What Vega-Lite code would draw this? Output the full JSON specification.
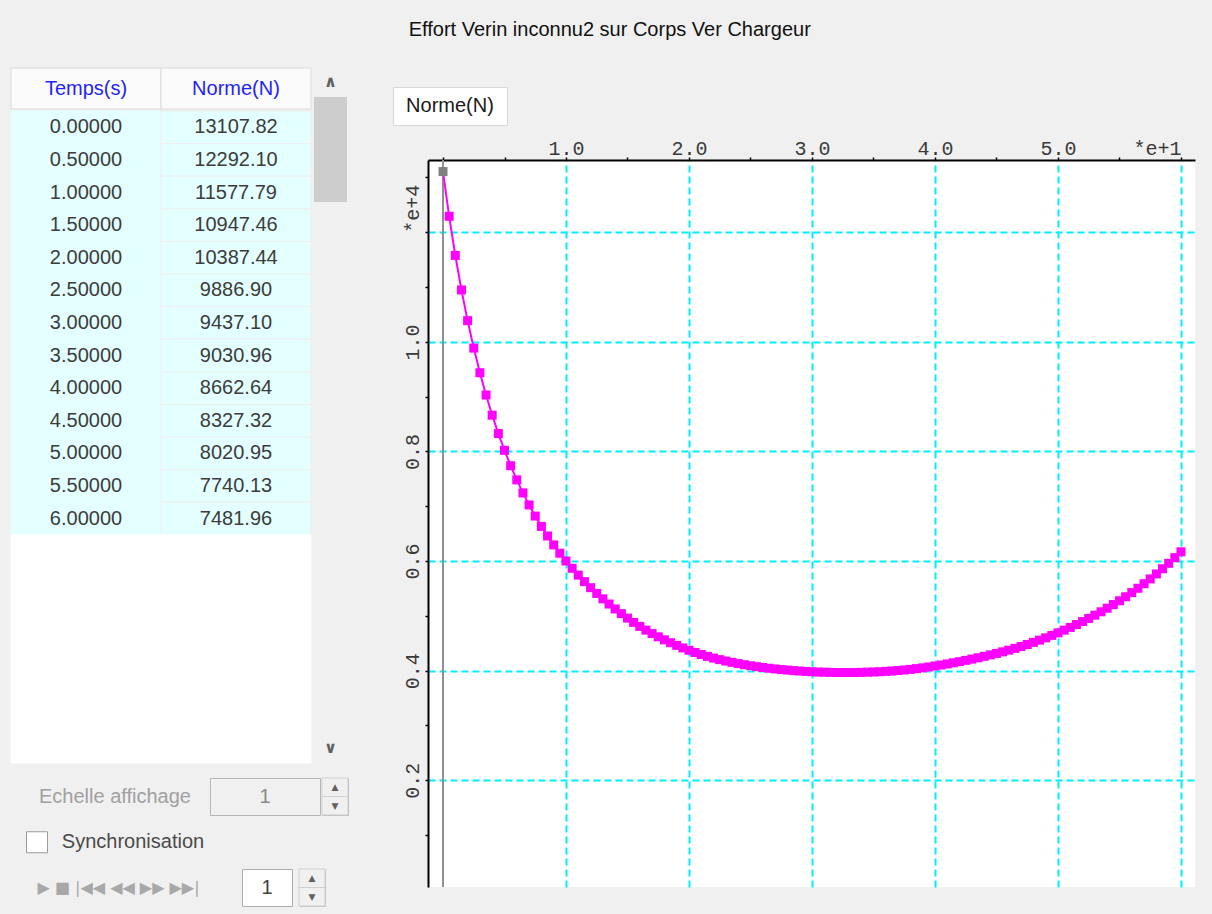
{
  "$schema": "https://vega.github.io/schema/vega-lite/v6.json",
  "background": "#f0f0f0",
  "padding": {"left": 10, "top": 19, "right": 17, "bottom": 9},
  "config": {"view": {"stroke": null}, "font": "Liberation Sans"},
  "title": {"text": "Effort Verin inconnu2 sur Corps Ver Chargeur", "fontSize": 20, "fontWeight": "normal", "color": "#111111", "font": "Liberation Sans", "anchor": "middle", "offset": 28, "dx": 7},
  "datasets": {
    "series": [
      {"t": 0, "norme": 13107.82}, {"t": 0.5, "norme": 12292.10}, {"t": 1, "norme": 11577.79}, {"t": 1.5, "norme": 10947.46},
      {"t": 2, "norme": 10387.44}, {"t": 2.5, "norme": 9886.90}, {"t": 3, "norme": 9437.10}, {"t": 3.5, "norme": 9030.96},
      {"t": 4, "norme": 8662.64}, {"t": 4.5, "norme": 8327.32}, {"t": 5, "norme": 8020.95}, {"t": 5.5, "norme": 7740.13},
      {"t": 6, "norme": 7481.96}, {"t": 6.5, "norme": 7244.1}, {"t": 7, "norme": 7024.5}, {"t": 7.5, "norme": 6821.4},
      {"t": 8, "norme": 6633.1}, {"t": 8.5, "norme": 6458.2}, {"t": 9, "norme": 6295.4}, {"t": 9.5, "norme": 6143.5},
      {"t": 10, "norme": 6001.5}, {"t": 10.5, "norme": 5868.4}, {"t": 11, "norme": 5743.4}, {"t": 11.5, "norme": 5625.8},
      {"t": 12, "norme": 5514.9}, {"t": 12.5, "norme": 5410.1}, {"t": 13, "norme": 5310.9}, {"t": 13.5, "norme": 5216.7},
      {"t": 14, "norme": 5127.1}, {"t": 14.5, "norme": 5041.7}, {"t": 15, "norme": 4960.2}, {"t": 15.5, "norme": 4881.2},
      {"t": 16, "norme": 4808.2}, {"t": 16.5, "norme": 4740.2}, {"t": 17, "norme": 4677.2}, {"t": 17.5, "norme": 4618.2},
      {"t": 18, "norme": 4563.2}, {"t": 18.5, "norme": 4511.2}, {"t": 19, "norme": 4462.2}, {"t": 19.5, "norme": 4416.2},
      {"t": 20, "norme": 4373.2}, {"t": 20.5, "norme": 4332.2}, {"t": 21, "norme": 4295.2}, {"t": 21.5, "norme": 4261.2},
      {"t": 22, "norme": 4230.2}, {"t": 22.5, "norme": 4201.7}, {"t": 23, "norme": 4175.7}, {"t": 23.5, "norme": 4151.7},
      {"t": 24, "norme": 4129.7}, {"t": 24.5, "norme": 4109.7}, {"t": 25, "norme": 4091.2}, {"t": 25.5, "norme": 4074.2},
      {"t": 26, "norme": 4058.7}, {"t": 26.5, "norme": 4044.7}, {"t": 27, "norme": 4032.2}, {"t": 27.5, "norme": 4021.2},
      {"t": 28, "norme": 4011.2}, {"t": 28.5, "norme": 4002.2}, {"t": 29, "norme": 3994.2}, {"t": 29.5, "norme": 3987.2},
      {"t": 30, "norme": 3981.2}, {"t": 30.5, "norme": 3976.2}, {"t": 31, "norme": 3972.2}, {"t": 31.5, "norme": 3969.2},
      {"t": 32, "norme": 3967.2}, {"t": 32.5, "norme": 3966.2}, {"t": 33, "norme": 3966.7}, {"t": 33.5, "norme": 3967.7},
      {"t": 34, "norme": 3969.7}, {"t": 34.5, "norme": 3972.7}, {"t": 35, "norme": 3976.7}, {"t": 35.5, "norme": 3981.7},
      {"t": 36, "norme": 3987.7}, {"t": 36.5, "norme": 3994.7}, {"t": 37, "norme": 4003.2}, {"t": 37.5, "norme": 4013.2},
      {"t": 38, "norme": 4024.7}, {"t": 38.5, "norme": 4037.7}, {"t": 39, "norme": 4052.2}, {"t": 39.5, "norme": 4068.2},
      {"t": 40, "norme": 4085.7}, {"t": 40.5, "norme": 4104.2}, {"t": 41, "norme": 4123.7}, {"t": 41.5, "norme": 4144.2},
      {"t": 42, "norme": 4165.7}, {"t": 42.5, "norme": 4188.2}, {"t": 43, "norme": 4211.7}, {"t": 43.5, "norme": 4236.2},
      {"t": 44, "norme": 4261.7}, {"t": 44.5, "norme": 4288.2}, {"t": 45, "norme": 4315.7}, {"t": 45.5, "norme": 4344.2},
      {"t": 46, "norme": 4374.7}, {"t": 46.5, "norme": 4407.2}, {"t": 47, "norme": 4441.7}, {"t": 47.5, "norme": 4478.2},
      {"t": 48, "norme": 4516.7}, {"t": 48.5, "norme": 4557.2}, {"t": 49, "norme": 4599.7}, {"t": 49.5, "norme": 4644.2},
      {"t": 50, "norme": 4690.7}, {"t": 50.5, "norme": 4739.2}, {"t": 51, "norme": 4789.7}, {"t": 51.5, "norme": 4842.2},
      {"t": 52, "norme": 4896.7}, {"t": 52.5, "norme": 4953.7}, {"t": 53, "norme": 5013.2}, {"t": 53.5, "norme": 5075.2},
      {"t": 54, "norme": 5139.7}, {"t": 54.5, "norme": 5206.7}, {"t": 55, "norme": 5276.2}, {"t": 55.5, "norme": 5349.2},
      {"t": 56, "norme": 5425.2}, {"t": 56.5, "norme": 5504.7}, {"t": 57, "norme": 5587.7}, {"t": 57.5, "norme": 5674.7},
      {"t": 58, "norme": 5765.7}, {"t": 58.5, "norme": 5860.7}, {"t": 59, "norme": 5959.7}, {"t": 59.5, "norme": 6062.7},
      {"t": 60, "norme": 6169.7}
    ]
  },
  "spacing": 43,
  "hconcat": [
    {
      "spacing": 13,
      "vconcat": [
        {
          "spacing": 2,
          "hconcat": [
            {
              "spacing": 0,
              "vconcat": [
                {
                  "width": 300,
                  "height": 41,
                  "data": {"values": [{"col": "t", "header": "Temps(s)"}, {"col": "norme", "header": "Norme(N)"}]},
                  "encoding": {
                    "x": {"field": "col", "type": "nominal", "sort": null, "scale": {"domain": ["t", "norme"], "paddingInner": 0, "paddingOuter": 0}, "axis": null}
                  },
                  "layer": [
                    {"mark": {"type": "rect", "fill": "#fbfbfb", "stroke": "#dadada", "strokeWidth": 1}},
                    {"mark": {"type": "text", "fontSize": 20, "color": "#1f1fff"}, "encoding": {"text": {"field": "header"}}}
                  ]
                },
                {
                  "width": 300,
                  "height": 652,
                  "data": {"name": "series"},
                  "transform": [
                    {"filter": "datum.t < 10"},
                    {"fold": ["t", "norme"], "as": ["col", "val"]},
                    {"calculate": "datum.col === 't' ? format(datum.val, '.5f') : format(datum.val, '.2f')", "as": "lbl"}
                  ],
                  "encoding": {
                    "x": {"field": "col", "type": "nominal", "scale": {"domain": ["t", "norme"], "paddingInner": 0, "paddingOuter": 0}, "axis": null},
                    "y": {"field": "t", "type": "ordinal", "scale": {"paddingInner": 0, "paddingOuter": 0}, "axis": null}
                  },
                  "layer": [
                    {
                      "mark": {"type": "rect", "strokeWidth": 1},
                      "encoding": {
                        "fill": {"condition": {"test": "datum.t <= 6", "value": "#e4ffff"}, "value": "#ffffff"},
                        "stroke": {"condition": [{"test": "datum.col === 'norme' && datum.t <= 6", "value": "#eeeeee"}, {"test": "datum.t <= 6", "value": "#e4ffff"}], "value": "#ffffff"}
                      }
                    },
                    {
                      "transform": [{"filter": "datum.t <= 6"}],
                      "mark": {"type": "text", "fontSize": 20, "color": "#3c3c3c", "font": "Liberation Sans"},
                      "encoding": {"text": {"field": "lbl"}}
                    }
                  ]
                }
              ]
            },
            {
              "width": 33,
              "height": 694,
              "data": {"values": [{}]},
              "layer": [
                {
                  "mark": {"type": "rect", "fill": "#cdcdcd"},
                  "encoding": {
                    "y": {"datum": 0, "type": "quantitative", "scale": {"domain": [-5.5, 126.5], "reverse": true, "nice": false, "zero": false}, "axis": null},
                    "y2": {"datum": 20}
                  }
                },
                {
                  "mark": {"type": "text", "text": "∧", "fontSize": 16, "fontWeight": "bold", "color": "#606060", "font": "DejaVu Sans"},
                  "encoding": {"y": {"datum": -2.75, "type": "quantitative"}}
                },
                {
                  "mark": {"type": "text", "text": "∨", "fontSize": 16, "fontWeight": "bold", "color": "#606060", "font": "DejaVu Sans"},
                  "encoding": {"y": {"datum": 123.75, "type": "quantitative"}}
                }
              ]
            }
          ]
        },
        {
          "spacing": 8,
          "hconcat": [
            {
              "width": 190, "height": 37,
              "data": {"values": [{"label": "Echelle affichage"}]},
              "mark": {"type": "text", "fontSize": 20, "color": "#a0a0a0", "dx": 9},
              "encoding": {"text": {"field": "label"}}
            },
            {
              "spacing": 0,
              "hconcat": [
                {
                  "width": 110, "height": 37,
                  "view": {"fill": "#f0f0f0", "stroke": "#b5b5b5"},
                  "data": {"values": [{"value": "1"}]},
                  "mark": {"type": "text", "fontSize": 20, "color": "#8a8a8a"},
                  "encoding": {"text": {"field": "value"}}
                },
                {
                  "width": 26, "height": 37,
                  "view": {"fill": "#f0f0f0", "stroke": "#b5b5b5"},
                  "data": {"values": [{"arrow": "▲"}, {"arrow": "▼"}]},
                  "encoding": {"y": {"field": "arrow", "type": "nominal", "sort": null, "axis": null, "scale": {"paddingInner": 0, "paddingOuter": 0}}},
                  "layer": [
                    {"mark": {"type": "rect", "fill": "#f0f0f0", "stroke": "#d0d0d0"}},
                    {"mark": {"type": "text", "fontSize": 9, "color": "#606060", "font": "DejaVu Sans"}, "encoding": {"text": {"field": "arrow"}}}
                  ]
                }
              ]
            }
          ]
        },
        {
          "spacing": 13,
          "center": true,
          "hconcat": [
            {
              "width": 1, "height": 26,
              "data": {"values": [{}]},
              "mark": {"type": "text", "text": ""}
            },
            {
              "width": 21, "height": 21,
              "view": {"fill": "#ffffff", "stroke": "#9a9a9a"},
              "data": {"values": [{}]},
              "mark": {"type": "text", "text": ""}
            },
            {
              "width": 130, "height": 26,
              "data": {"values": [{"label": "Synchronisation"}]},
              "mark": {"type": "text", "fontSize": 20, "color": "#4a4a4a"},
              "encoding": {"text": {"field": "label"}}
            }
          ]
        },
        {
          "spacing": 15,
          "hconcat": [
            {
              "width": 215, "height": 37,
              "data": {"values": [{"label": "▶   ■   |◀◀   ◀◀   ▶▶   ▶▶|"}]},
              "mark": {"type": "text", "fontSize": 16, "color": "#a8a8a8", "font": "DejaVu Sans"},
              "encoding": {"text": {"field": "label"}}
            },
            {
              "spacing": 5,
              "hconcat": [
                {
                  "width": 50, "height": 37,
                  "view": {"fill": "#ffffff", "stroke": "#adadad"},
                  "data": {"values": [{"value": "1"}]},
                  "mark": {"type": "text", "fontSize": 20, "color": "#404040"},
                  "encoding": {"text": {"field": "value"}}
                },
                {
                  "width": 26, "height": 37,
                  "view": {"fill": "#f0f0f0", "stroke": "#c0c0c0"},
                  "data": {"values": [{"arrow": "▲"}, {"arrow": "▼"}]},
                  "encoding": {"y": {"field": "arrow", "type": "nominal", "sort": null, "axis": null, "scale": {"paddingInner": 0, "paddingOuter": 0}}},
                  "layer": [
                    {"mark": {"type": "rect", "fill": "#f0f0f0", "stroke": "#d0d0d0"}},
                    {"mark": {"type": "text", "fontSize": 9, "color": "#606060", "font": "DejaVu Sans"}, "encoding": {"text": {"field": "arrow"}}}
                  ]
                }
              ]
            }
          ]
        }
      ]
    },
    {
      "spacing": 0,
      "vconcat": [
        {
          "width": 1, "height": 18,
          "data": {"values": [{}]},
          "mark": {"type": "text", "text": ""}
        },
        {
          "width": 114, "height": 38,
          "view": {"fill": "#ffffff", "stroke": "#d9d9d9"},
          "data": {"values": [{"tab": "Norme(N)"}]},
          "mark": {"type": "text", "fontSize": 20, "color": "#1a1a1a"},
          "encoding": {"text": {"field": "tab"}}
        },
        {
          "spacing": 0,
          "hconcat": [
            {
              "width": 1, "height": 1,
              "data": {"values": [{}]},
              "mark": {"type": "text", "text": ""}
            },
            {
              "width": 767,
              "height": 727,
              "view": {"fill": "#ffffff", "stroke": null},
              "layer": [
                {
                  "data": {"values": [{"zero": 0}]},
                  "mark": {"type": "rule", "color": "#909090", "strokeWidth": 2},
                  "encoding": {
                    "x": {"field": "zero", "type": "quantitative", "scale": {"domain": [-1.22, 61.14], "nice": false, "zero": false}}
                  }
                },
                {
                  "data": {"name": "series"},
                  "mark": {"type": "line", "color": "#ff00ff", "strokeWidth": 2},
                  "encoding": {
                    "x": {"field": "t", "type": "quantitative", "scale": {"domain": [-1.22, 61.14], "nice": false, "zero": false},
                      "axis": {"orient": "top", "title": null, "values": [0, 5, 10, 15, 20, 25, 30, 35, 40, 45, 50, 55, 60],
                        "labelExpr": "datum.value == 60 ? '*e+1' : (datum.value > 0 && datum.value % 10 == 0 ? format(datum.value / 10, '.1f') : '')",
                        "labelAlign": {"condition": {"test": "datum.value == 60", "value": "right"}, "value": "center"},
                        "labelBaseline": "alphabetic", "labelFont": "Liberation Mono", "labelFontSize": 20, "labelColor": "#3a3a3a",
                        "labelPadding": 3, "labelFlush": false, "labelOverlap": false, "labelBound": false,
                        "tickSize": 3, "tickWidth": 1.5, "tickColor": "#000000",
                        "domainColor": "#000000", "domainWidth": 2,
                        "grid": true, "gridColor": "#00eeff", "gridDash": [7, 4], "gridWidth": 2,
                        "gridOpacity": {"condition": {"test": "datum.value > 0 && datum.value % 10 == 0", "value": 1}, "value": 0},
                        "minExtent": 34, "maxExtent": 34}},
                    "y": {"field": "norme", "type": "quantitative", "scale": {"domain": [53, 13319], "nice": false, "zero": false},
                      "axis": {"orient": "left", "title": null, "values": [1000, 2000, 3000, 4000, 5000, 6000, 7000, 8000, 9000, 10000, 11000, 12000, 13000],
                        "labelExpr": "datum.value == 12000 ? '*e+4' : (datum.value % 2000 == 0 ? format(datum.value / 10000, '.1f') : '')",
                        "labelAngle": 270,
                        "labelAlign": {"condition": {"test": "datum.value == 12000", "value": "left"}, "value": "center"},
                        "labelBaseline": "alphabetic", "labelFont": "Liberation Mono", "labelFontSize": 20, "labelColor": "#3a3a3a",
                        "labelPadding": 7, "labelFlush": false, "labelOverlap": false, "labelBound": false,
                        "tickSize": 3, "tickWidth": 1.5, "tickColor": "#000000",
                        "domainColor": "#000000", "domainWidth": 2,
                        "grid": true, "gridColor": "#00eeff", "gridDash": [7, 4], "gridWidth": 2,
                        "gridOpacity": {"condition": {"test": "datum.value % 2000 == 0", "value": 1}, "value": 0},
                        "minExtent": 34, "maxExtent": 34}}
                  }
                },
                {
                  "data": {"name": "series"},
                  "mark": {"type": "point", "shape": "square", "filled": true, "size": 81, "opacity": 1, "strokeWidth": 0},
                  "encoding": {
                    "x": {"field": "t", "type": "quantitative", "scale": {"domain": [-1.22, 61.14], "nice": false, "zero": false}},
                    "y": {"field": "norme", "type": "quantitative", "scale": {"domain": [53, 13319], "nice": false, "zero": false}},
                    "color": {"condition": {"test": "datum.t === 0", "value": "#808080"}, "value": "#ff00ff"}
                  }
                }
              ]
            }
          ]
        }
      ]
    }
  ]
}
